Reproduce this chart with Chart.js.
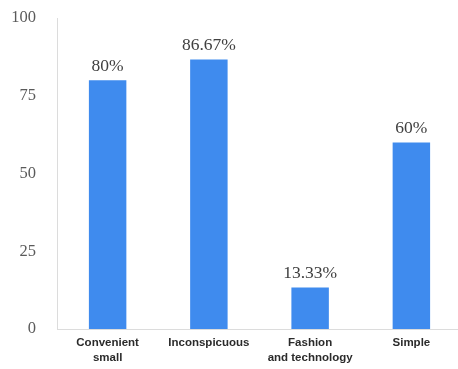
<!DOCTYPE html>
<html>
<head>
<meta charset="utf-8">
<script src="https://cdn.jsdelivr.net/npm/chart.js@4"></script>
<style>
  html, body { margin: 0; padding: 0; background: #fff; overflow: hidden; }
  #wrap { width: 462px; height: 369px; position: relative; }
</style>
</head>
<body>
<div id="wrap"><canvas id="features"></canvas></div>
<script>
let categories = [["Convenient", "small"], "Inconspicuous", ["Fashion", "and technology"], "Simple"];
let shares = [80, 86.67, 13.33, 60];
let yTicks = [0, 25, 50, 75, 100];

let barColor = '#3f8bee';
let axisColor = '#dcdcdc';

// writes "NN%" above each bar
let valueLabels = {
    id: 'valueLabels',
    afterDatasetsDraw: function(chart) {
        let ctx = chart.ctx;
        let meta = chart.getDatasetMeta(0);
        ctx.save();
        ctx.font = '17.5px "Liberation Serif", "Times New Roman", serif';
        ctx.fillStyle = '#404040';
        ctx.textAlign = 'center';
        ctx.textBaseline = 'middle';
        meta.data.forEach(function(bar, i) {
            ctx.fillText(shares[i] + '%', bar.x, bar.y - 14);
        });
        ctx.restore();
    }
};

let ctx = document.getElementById('features').getContext('2d');
let chart = new Chart(ctx, {
    type: 'bar',
    data: {
        labels: categories,
        datasets: [{
            data: shares,
            backgroundColor: barColor,
            borderWidth: 0,
            barPercentage: 0.37,
            categoryPercentage: 1
        }]
    },
    options: {
        responsive: true,
        maintainAspectRatio: false,
        animation: false,
        layout: { padding: { top: 18, right: 0, left: 0, bottom: 0 } },
        plugins: {
            legend: { display: false },
            tooltip: { enabled: false }
        },
        scales: {
            x: {
                grid: { display: false },
                border: { display: true, color: axisColor, width: 1 },
                ticks: {
                    color: '#2b2b2b',
                    padding: -2,
                    maxRotation: 0,
                    autoSkip: false,
                    font: { family: '"Liberation Sans", Arial, sans-serif', size: 11.5, weight: 'bold', lineHeight: 1.3 }
                },
                afterFit: function(scale) {
                    scale.height = 40;
                    scale.paddingLeft = 0;
                    scale.paddingRight = 0;
                }
            },
            y: {
                min: 0,
                max: 100,
                grid: { display: false },
                border: { display: true, color: axisColor, width: 1 },
                afterBuildTicks: function(scale) {
                    scale.ticks = yTicks.map(function(v) { return { value: v }; });
                },
                ticks: {
                    color: '#5a5a5a',
                    padding: 13,
                    font: { family: '"Liberation Serif", "Times New Roman", serif', size: 16.5 }
                },
                afterFit: function(scale) {
                    scale.width = 57;
                    scale.paddingTop = 0;
                    scale.paddingBottom = 0;
                }
            }
        }
    },
    plugins: [valueLabels]
});
</script>
</body>
</html>
